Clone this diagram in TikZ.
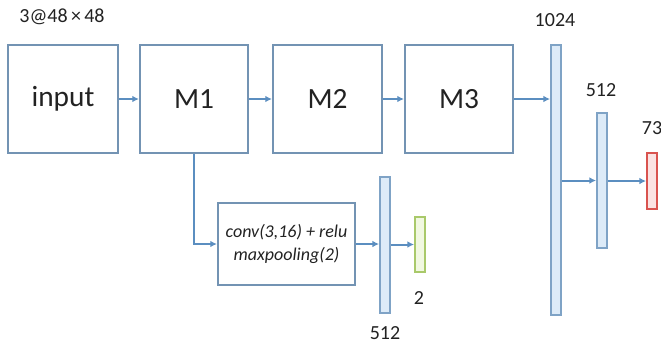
\documentclass[tikz,border=0pt]{standalone}
\usepackage{fontspec}
\setmainfont{Carlito}
\usetikzlibrary{arrows.meta}
\definecolor{boxc}{HTML}{7393B3}
\definecolor{barc}{HTML}{7FA3C6}
\definecolor{barfill}{HTML}{DDEBF8}
\definecolor{arrc}{HTML}{5B8EC0}
\definecolor{redc}{HTML}{D9534F}
\definecolor{redfill}{HTML}{FBE3E3}
\definecolor{grnc}{HTML}{A9C96A}
\definecolor{grnfill}{HTML}{F1F8E1}
\definecolor{txt}{HTML}{222222}
\begin{document}
\begin{tikzpicture}[x=0.75pt,y=-0.75pt,
  mod/.style={draw=boxc,line width=1.6pt,minimum width=#1*0.75pt,minimum height=81pt,inner sep=0pt,font=\fontsize{22}{24}\selectfont,text=txt},
  bar/.style={draw=barc,fill=barfill,line width=1.4pt,minimum width=7.5pt,inner sep=0pt},
  lbl/.style={font=\fontsize{15}{17}\selectfont,text=txt,inner sep=0pt},
  arr/.style={draw=arrc,line width=1.5pt,-{Latex[length=5pt,width=5pt]}},
  ln/.style={draw=arrc,line width=1.5pt}]
\useasboundingbox (0,0) rectangle (661,344);
\node[mod=110] (in) at (63,99) {input};
\node[mod=108] (m1) at (194,99) {M1};
\node[mod=109] (m2) at (327.5,99) {M2};
\node[mod=108] (m3) at (459,99) {M3};
\node[lbl] (t0) at (62,17) {3@48\,×\,48};
\node[bar,minimum height=202.5pt] (b1024) at (556,180) {};
\node[bar,minimum height=101pt] (b512) at (602,180.5) {};
\node[bar,draw=redc,fill=redfill,minimum height=42pt] (b73) at (652,181) {};
\node[lbl] (l1024) at (555,20) {1024};
\node[lbl] (l512) at (601,90) {512};
\node[lbl] (l73) at (652,128) {73};
\node[draw=boxc,line width=1.6pt,minimum width=102.75pt,minimum height=61.5pt,inner sep=0pt,align=center,
  font=\fontsize{13.5}{17}\selectfont\itshape,text=txt] (conv) at (286.5,244) {conv(3,16) + relu\\maxpooling(2)};
\node[bar,minimum height=102pt] (bl512) at (385,245) {};
\node[bar,draw=grnc,fill=grnfill,minimum height=41pt] (b2) at (420,244.5) {};
\node[lbl] (l2) at (419,298) {2};
\node[lbl] (lb512) at (385,333) {512};
\draw[arr] (in) -- (m1);
\draw[arr] (m1) -- (m2);
\draw[arr] (m2) -- (m3);
\draw[arr] (m3.east) -- (m3.east -| b1024.west);
\draw[arr] (b1024.east |- b512.west) -- (b512.west);
\draw[arr] (b512.east |- b73.west) -- (b73.west);
\draw[arr] (m1.south) |- (conv.west);
\draw[arr] (conv.east) -- (conv.east -| bl512.west);
\draw[arr] (bl512.east |- b2.west) -- (b2.west);
\end{tikzpicture}
\end{document}
